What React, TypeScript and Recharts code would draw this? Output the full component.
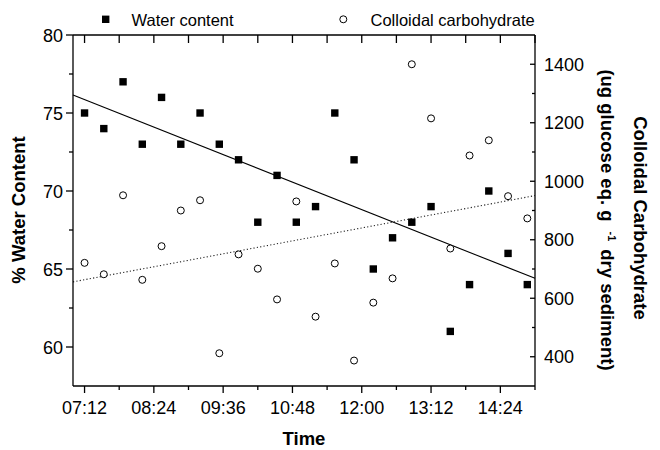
import {
  ScatterChart,
  Scatter,
  XAxis,
  YAxis,
  ReferenceLine,
  Legend,
  Label,
} from "recharts";

// sampling times (every 20 min)
const times = [
  "07:12", "07:32", "07:52", "08:12", "08:32", "08:52", "09:12", "09:32",
  "09:52", "10:12", "10:32", "10:52", "11:12", "11:32", "11:52", "12:12",
  "12:32", "12:52", "13:12", "13:32", "13:52", "14:12", "14:32", "14:52",
];
const waterContent = [
  75, 74, 77, 73, 76, 73, 75, 73, 72, 68, 71, 68,
  69, 75, 72, 65, 67, 68, 69, 61, 64, 70, 66, 64,
];
const carbohydrate = [
  721, 682, 952, 663, 778, 900, 935, 412, 750, 701, 596, 931,
  537, 719, 387, 585, 668, 1400, 1215, 770, 1088, 1140, 949, 873,
];

// fitted trend lines at the axis ends
const waterTrend = [
  { t: "07:00", v: 76.15 },
  { t: "15:00", v: 64.4 },
];
const carbTrend = [
  { t: "07:00", v: 656 },
  { t: "15:00", v: 951 },
];

const xTicks = [
  "07:12", "07:48", "08:24", "09:00", "09:36", "10:12", "10:48",
  "11:24", "12:00", "12:36", "13:12", "13:48", "14:24", "15:00",
];
const xLabels = ["07:12", "08:24", "09:36", "10:48", "12:00", "13:12", "14:24"];
const leftTicks = [60, 62.5, 65, 67.5, 70, 72.5, 75, 77.5, 80];
const leftLabels = [60, 65, 70, 75, 80];
const rightTicks = [400, 500, 600, 700, 800, 900, 1000, 1100, 1200, 1300, 1400];
const rightLabels = [400, 600, 800, 1000, 1200, 1400];

const toMin = (s: string) => {
  const [h, m] = s.split(":").map(Number);
  return h * 60 + m;
};
const fmt = (v: number) =>
  String(Math.floor(v / 60)).padStart(2, "0") + ":" + String(v % 60).padStart(2, "0");

const waterData = times.map((t, i) => ({ t: toMin(t), v: waterContent[i] }));
const carbData = times.map((t, i) => ({ t: toMin(t), v: carbohydrate[i] }));
const xMajor = xLabels.map(toMin);

const FS = 18;

const BottomTick = (p: any) => {
  const major = xMajor.includes(p.payload.value);
  return (
    <g>
      <line x1={p.x} x2={p.x} y1={p.y} y2={p.y + (major ? 7 : 4)} stroke="#000" strokeWidth={1.3} />
      {major && (
        <text x={p.x} y={p.y + 28} textAnchor="middle" fontSize={FS} fill="#000">
          {fmt(p.payload.value)}
        </text>
      )}
    </g>
  );
};

const TopTick = (p: any) => (
  <line x1={p.x} x2={p.x} y1={p.y} y2={p.y + 8} stroke="#000" strokeWidth={1.3} />
);

const LeftTick = (p: any) => {
  const major = leftLabels.includes(p.payload.value);
  return (
    <g>
      <line x1={p.x} x2={p.x - (major ? 7 : 4)} y1={p.y} y2={p.y} stroke="#000" strokeWidth={1.3} />
      {major && (
        <text x={p.x - 10} y={p.y + 6.5} textAnchor="end" fontSize={FS} fill="#000">
          {p.payload.value}
        </text>
      )}
    </g>
  );
};

const RightTick = (p: any) => {
  const major = rightLabels.includes(p.payload.value);
  return (
    <g>
      <line x1={p.x} x2={p.x - (major ? 5 : 3)} y1={p.y} y2={p.y} stroke="#000" strokeWidth={1.3} />
      {major && (
        <text x={p.x + 9} y={p.y + 6.5} textAnchor="start" fontSize={FS} fill="#000">
          {p.payload.value}
        </text>
      )}
    </g>
  );
};

const Square = (p: any) => (
  <rect x={p.cx - 3.7} y={p.cy - 3.7} width={7.4} height={7.4} fill="#000" />
);
const Ring = (p: any) => (
  <circle cx={p.cx} cy={p.cy} r={3.5} fill="#fff" stroke="#000" strokeWidth={1} />
);

const LegendBox = () => (
  <svg width={660} height={34}>
    <rect x={102} y={15.6} width={7.4} height={7.4} fill="#000" />
    <text x={131.5} y={26} fontSize={16.5} fill="#000">Water content</text>
    <circle cx={343.3} cy={19.3} r={3.5} fill="#fff" stroke="#000" strokeWidth={1} />
    <text x={370.5} y={26} fontSize={16.5} fill="#000">Colloidal carbohydrate</text>
  </svg>
);

const axisLine = { stroke: "#000", strokeWidth: 1.3 };

export default function App() {
  return (
    <div style={{ position: "absolute", left: 0, top: 0, fontFamily: "'Liberation Sans', Arial, sans-serif" }}>
      <ScatterChart width={660} height={450} margin={{ top: 25, right: 65, bottom: 24, left: 13 }}>
        <XAxis
          xAxisId="bottom"
          dataKey="t"
          type="number"
          domain={[420, 900]}
          allowDataOverflow
          ticks={xTicks.map(toMin)}
          interval={0}
          tickSize={0}
          tickMargin={0}
          tick={<BottomTick />}
          axisLine={axisLine}
          height={40}
        >
          <Label
            content={() => (
              <text x={304} y={445} textAnchor="middle" fontSize={18.5} fontWeight="bold" fill="#000">
                Time
              </text>
            )}
          />
        </XAxis>
        <XAxis
          xAxisId="top"
          orientation="top"
          dataKey="t"
          type="number"
          domain={[420, 900]}
          allowDataOverflow
          ticks={xTicks.map(toMin)}
          interval={0}
          tickSize={0}
          tickMargin={0}
          tick={<TopTick />}
          axisLine={axisLine}
          height={10}
        />
        <YAxis
          yAxisId="left"
          dataKey="v"
          type="number"
          domain={[57.5, 80]}
          allowDataOverflow
          ticks={leftTicks}
          interval={0}
          tickSize={0}
          tickMargin={0}
          tick={<LeftTick />}
          axisLine={axisLine}
          width={60}
        >
          <Label
            content={() => (
              <text
                x={19}
                y={210}
                dy="0.35em"
                transform="rotate(-90 19 210)"
                textAnchor="middle"
                fontSize={18.5}
                fontWeight="bold"
                fill="#000"
              >
                % Water Content
              </text>
            )}
          />
        </YAxis>
        <YAxis
          yAxisId="right"
          orientation="right"
          dataKey="v"
          type="number"
          domain={[300, 1500]}
          allowDataOverflow
          ticks={rightTicks}
          interval={0}
          tickSize={0}
          tickMargin={0}
          tick={<RightTick />}
          axisLine={axisLine}
          width={60}
        >
          <Label
            content={() => (
              <g fontSize={18.5} fontWeight="bold" fill="#000">
                <text x={640} y={218} dy="0.35em" transform="rotate(90 640 218)" textAnchor="middle">
                  Colloidal Carbohydrate
                </text>
                <text x={607} y={220} dy="0.35em" transform="rotate(90 607 220)" textAnchor="middle">
                  (ug glucose eq. g
                  <tspan fontSize={11} dx={10} dy={-7}>-1</tspan>
                  <tspan dx={8} dy={7}>dry sediment)</tspan>
                </text>
              </g>
            )}
          />
        </YAxis>
        <Legend
          layout="horizontal"
          verticalAlign="middle"
          align="center"
          wrapperStyle={{ top: 0, left: 0, width: 660, height: 34, margin: 0 }}
          content={() => <LegendBox />}
        />
        <ReferenceLine
          xAxisId="bottom"
          yAxisId="left"
          segment={waterTrend.map((d) => ({ x: toMin(d.t), y: d.v }))}
          stroke="#000"
          strokeWidth={1.1}
        />
        <ReferenceLine
          xAxisId="bottom"
          yAxisId="right"
          segment={carbTrend.map((d) => ({ x: toMin(d.t), y: d.v }))}
          stroke="#222"
          strokeWidth={1.1}
          strokeDasharray="1.2 2.2"
        />
        <Scatter
          name="Water content"
          data={waterData}
          xAxisId="bottom"
          yAxisId="left"
          shape={<Square />}
          isAnimationActive={false}
        />
        <Scatter
          name="Colloidal carbohydrate"
          data={carbData}
          xAxisId="bottom"
          yAxisId="right"
          shape={<Ring />}
          isAnimationActive={false}
        />
      </ScatterChart>
    </div>
  );
}
